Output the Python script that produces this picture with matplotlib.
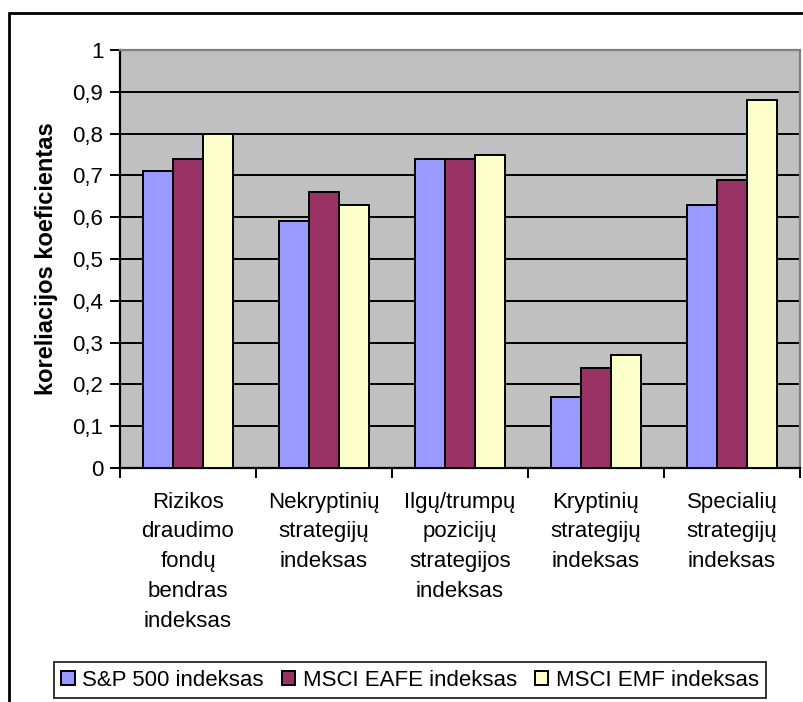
import matplotlib
matplotlib.use("Agg")
import matplotlib.pyplot as plt
from matplotlib.patches import Rectangle
from matplotlib.ticker import MultipleLocator, FixedLocator, FuncFormatter
import numpy as np

plt.rcParams['font.family'] = ['Liberation Sans', 'DejaVu Sans']

categories = [
    "Rizikos\ndraudimo\nfondų\nbendras\nindeksas",
    "Nekryptinių\nstrategijų\nindeksas",
    "Ilgų/trumpų\npozicijų\nstrategijos\nindeksas",
    "Kryptinių\nstrategijų\nindeksas",
    "Specialių\nstrategijų\nindeksas",
]
series_names = ["S&P 500 indeksas", "MSCI EAFE indeksas", "MSCI EMF indeksas"]
sp500 = [0.71, 0.59, 0.74, 0.17, 0.63]
msci_eafe = [0.74, 0.66, 0.74, 0.24, 0.69]
msci_emf = [0.80, 0.63, 0.75, 0.27, 0.88]
y_label = "koreliacijos koeficientas"

series = [sp500, msci_eafe, msci_emf]
colors = ["#9999FF", "#993366", "#FFFFCC"]
FS = 16

W, H = 804, 702
fig = plt.figure(figsize=(W / 100, H / 100), dpi=100)

# chart frame (extends past right/bottom edges)
fig.patches.append(Rectangle((9 / W, -0.05), 1.2, 1 - 13 / H + 0.05,
                             transform=fig.transFigure, fill=False,
                             edgecolor="black", linewidth=2, zorder=0))

left, right, top, bottom = 120, 800, 50, 468
ax = fig.add_axes([left / W, 1 - bottom / H, (right - left) / W, (bottom - top) / H])
ax.set_facecolor("#C0C0C0")

n = len(categories)
x = np.arange(n)
bw = 1 / 4.5
for i, (vals, c, name) in enumerate(zip(series, colors, series_names)):
    ax.bar(x + (i - 1) * bw, vals, width=bw, color=c, edgecolor="black",
           linewidth=1.4, label=name, zorder=3)

ax.set_xlim(-0.5, n - 0.5)
ax.set_ylim(0, 1)
ax.yaxis.set_major_locator(MultipleLocator(0.1))
ax.yaxis.set_major_formatter(FuncFormatter(
    lambda v, p: "0" if abs(v) < 1e-9 else ("1" if abs(v - 1) < 1e-9 else f"{v:.1f}".replace(".", ","))))
ax.grid(axis="y", color="black", linewidth=1.4, zorder=1)

ax.xaxis.set_major_locator(FixedLocator(x))
ax.set_xticklabels(categories, fontsize=FS, linespacing=1.55, va="top")
ax.xaxis.set_minor_locator(FixedLocator(np.arange(-0.5, n, 1.0)))
ax.tick_params(axis="x", which="major", length=0, pad=17)
ax.tick_params(axis="x", which="minor", length=7, width=1.4, direction="out")
ax.tick_params(axis="y", length=7, width=1.4, direction="out", labelsize=FS, pad=5)

for s in ["left", "bottom"]:
    ax.spines[s].set_color("black")
    ax.spines[s].set_linewidth(1.6)
for s in ["top", "right"]:
    ax.spines[s].set_color("#808080")
    ax.spines[s].set_linewidth(1.6)

fig.text(47 / W, 1 - 259 / H, y_label, rotation=90, fontsize=17,
         fontweight="bold", ha="center", va="center")

leg = fig.legend(loc="center", bbox_to_anchor=(410 / W, 1 - 680 / H), ncol=3,
                 fontsize=FS, frameon=True, fancybox=False, edgecolor="black",
                 handlelength=0.6, handleheight=0.6, handletextpad=0.35,
                 columnspacing=0.8, borderpad=0.32, borderaxespad=0)
leg.get_frame().set_linewidth(1.4)
for h in leg.legend_handles:
    h.set_linewidth(1.4)

fig.savefig("out.png", dpi=100)
